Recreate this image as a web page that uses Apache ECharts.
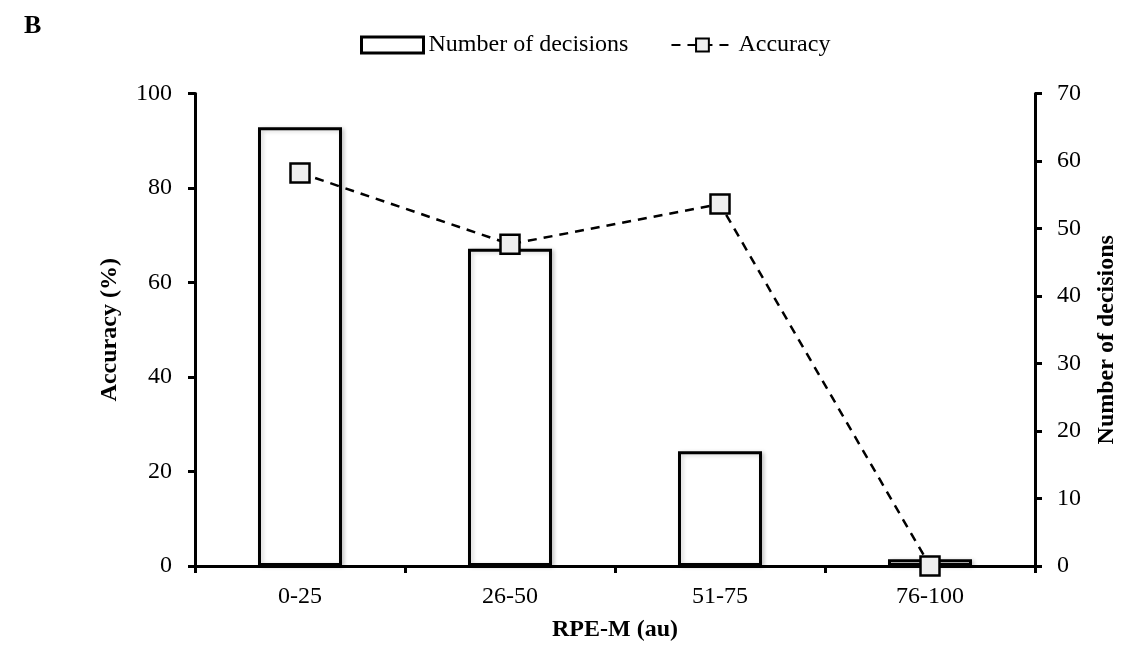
<!DOCTYPE html>
<html>
<head>
<meta charset="utf-8">
<script src="https://cdn.jsdelivr.net/npm/echarts@6/dist/echarts.min.js"></script>
<style>
  html, body { margin: 0; padding: 0; background: #fff; }
  #chart { width: 1127px; height: 653px; }
</style>
</head>
<body>
<div id="chart"></div>
<script>
// RPE-M bands (au)
const categories = ['0-25', '26-50', '51-75', '76-100'];
// Number of decisions per band (right axis)
const decisions = [65, 47, 17, 1];
// Accuracy per band, % (left axis)
const accuracy = [83.2, 68.1, 76.6, 0];

const font = '"Liberation Serif", "Times New Roman", serif';
const chart = echarts.init(document.getElementById('chart'), null, { renderer: 'canvas' });

chart.setOption({
  backgroundColor: '#ffffff',
  animation: false,
  textStyle: { fontFamily: font, color: '#000' },
  title: {
    text: 'B',
    left: 19,
    top: 8,
    textStyle: { fontFamily: font, fontWeight: 'bold', fontSize: 26, color: '#000' }
  },
  legend: {
    top: 28,
    left: 355,
    itemGap: 42,
    textStyle: { fontFamily: font, fontSize: 24, color: '#000' },
    data: [
      { name: 'Number of decisions', icon: 'rect', itemStyle: { color: '#fff', borderColor: '#000', borderWidth: 3 } },
      { name: 'Accuracy' }
    ],
    itemWidth: 62,
    itemHeight: 16
  },
  grid: { left: 195, right: 89, top: 93.5, bottom: 87, containLabel: false },
  xAxis: {
    type: 'category',
    data: categories,
    name: 'RPE-M (au)',
    nameLocation: 'middle',
    nameGap: 52,
    nameTextStyle: { fontFamily: font, fontWeight: 'bold', fontSize: 24, color: '#000' },
    axisLine: { lineStyle: { color: '#000', width: 3 } },
    axisTick: { show: true, length: 7, lineStyle: { color: '#000', width: 3 } },
    axisLabel: { fontFamily: font, fontSize: 24, color: '#000', margin: 19 },
    splitLine: { show: false }
  },
  yAxis: [
    {
      type: 'value',
      min: 0, max: 100, interval: 20,
      position: 'left',
      name: 'Accuracy (%)',
      nameLocation: 'middle',
      nameGap: 73,
      nameTextStyle: { fontFamily: font, fontWeight: 'bold', fontSize: 24, color: '#000' },
      axisLine: { show: true, lineStyle: { color: '#000', width: 3 } },
      axisTick: { show: true, length: 7, lineStyle: { color: '#000', width: 3 } },
      axisLabel: { fontFamily: font, fontSize: 24, color: '#000', margin: 23 },
      splitLine: { show: false }
    },
    {
      type: 'value',
      min: 0, max: 70, interval: 10,
      position: 'right',
      name: 'Number of decisions',
      nameLocation: 'middle',
      nameGap: 60,
      nameRotate: 90,
      nameTextStyle: { fontFamily: font, fontWeight: 'bold', fontSize: 24, color: '#000', padding: [0, 20, 0, 0] },
      axisLine: { show: true, lineStyle: { color: '#000', width: 3 } },
      axisTick: { show: true, length: 7, lineStyle: { color: '#000', width: 3 } },
      axisLabel: { fontFamily: font, fontSize: 24, color: '#000', margin: 22 },
      splitLine: { show: false }
    }
  ],
  series: [
    {
      name: 'Number of decisions',
      type: 'bar',
      yAxisIndex: 1,
      data: decisions,
      barWidth: '40%',
      itemStyle: {
        color: '#ffffff',
        borderColor: '#000',
        borderWidth: 3,
        shadowColor: 'rgba(0,0,0,0.18)',
        shadowBlur: 4,
        shadowOffsetX: 2,
        shadowOffsetY: 1
      }
    },
    {
      name: 'Accuracy',
      type: 'line',
      yAxisIndex: 0,
      data: accuracy,
      symbol: 'rect',
      symbolSize: 19,
      z: 5,
      lineStyle: { color: '#000', width: 2.5, type: [9, 7] },
      itemStyle: { color: '#efefef', borderColor: '#000', borderWidth: 2.5 }
    }
  ]
});
</script>
</body>
</html>
